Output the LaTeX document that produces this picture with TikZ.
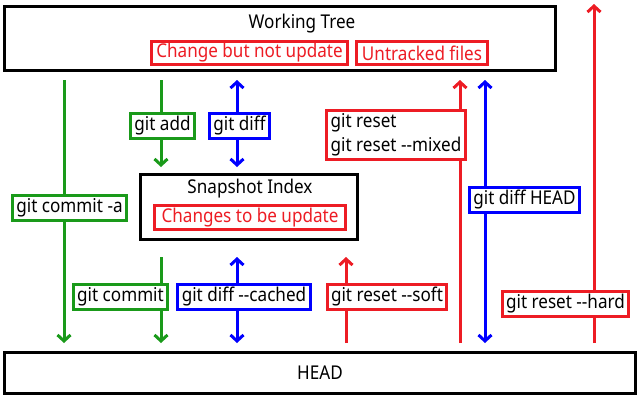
\documentclass[tikz,border=0pt]{standalone}
\usepackage{fontspec}
\setmainfont{Noto Sans}[FakeStretch=0.9]
\usetikzlibrary{positioning,arrows.meta}
\definecolor{gitgreen}{RGB}{26,154,26}
\definecolor{gitred}{RGB}{237,28,36}
\definecolor{gitblue}{RGB}{0,0,255}

\begin{document}
\begin{tikzpicture}[x=1pt,y=-1pt,
    font=\fontsize{19}{24}\selectfont,
    >={Straight Barb[length=6pt,width=13pt]},
    area/.style={draw,line width=3pt,inner sep=0,fill=white},
    tag/.style={draw,line width=3pt,fill=white,inner xsep=4pt,inner ysep=2pt,minimum height=25pt},
    greentag/.style={tag,draw=gitgreen},
    bluetag/.style={tag,draw=gitblue},
    redtag/.style={tag,draw=gitred},
    state/.style={tag,draw=gitred,text=gitred,inner sep=1pt,minimum height=23pt},
    wire/.style={line width=3pt}]
  \useasboundingbox (0,0) rectangle (640,400);
  % the three areas, each one a plain box with its title on top
  \node[area,minimum width=551pt,minimum height=64pt] (wt) at (280,38.5) {};
  \node (wtname) at (302,23.5) {Working Tree};
  \node[state,minimum width=196pt] (wtmod) at (249.5,53) {Change but not update};
  \node[state,minimum width=131pt] (wtnew) at (422,53) {Untracked files};

  \node[area,minimum width=217pt,minimum height=65pt] (idx) at (249,207) {};
  \node (idxname) at (250,188.5) {Snapshot Index};
  \node[state,minimum width=191pt,minimum height=24pt] (idxmod) at (250,217.5) {Changes to be update};

  \node[area,minimum width=631pt,minimum height=41pt,text depth=0pt] (head) at (320,373) {HEAD};

  % columns of the arrows
  \coordinate (c1) at (64,0);
  \coordinate (c2) at (161,0);
  \coordinate (c3) at (237,0);
  \coordinate (c4) at (346,0);
  \coordinate (c5) at (460,0);
  \coordinate (c6) at (485,0);
  \coordinate (c7) at (594,0);
  \coordinate (top) at (594,4);

  \draw[wire,gitgreen,->,shorten <=8pt,shorten >=8pt] (wt.south -| c1) -- (head.north -| c1);
  \draw[wire,gitgreen,->,shorten <=8pt,shorten >=6pt] (wt.south -| c2) -- (idx.north -| c2);
  \draw[wire,gitblue,<->,shorten <=8pt,shorten >=6pt] (wt.south -| c3) -- (idx.north -| c3);
  \draw[wire,gitgreen,->,shorten <=16pt,shorten >=8pt] (idx.south -| c2) -- (head.north -| c2);
  \draw[wire,gitblue,<->,shorten <=16pt,shorten >=8pt] (idx.south -| c3) -- (head.north -| c3);
  \draw[wire,gitred,->,shorten <=8pt,shorten >=16pt] (head.north -| c4) -- (idx.south -| c4);
  \draw[wire,gitred,->,shorten <=8pt,shorten >=8pt] (head.north -| c5) -- (wt.south -| c5);
  \draw[wire,gitblue,<->,shorten <=8pt,shorten >=8pt] (wt.south -| c6) -- (head.north -| c6);
  \draw[wire,gitred,->,shorten <=8pt] (head.north -| c7) -- (top);

  \node[greentag] (commita) at (69.5,207.5) {git commit -a};
  \node[greentag] (add) at (162.5,125.5) {git add};
  \node[bluetag] (diff) at (239.5,125.5) {git diff};
  \node[redtag,align=left,inner ysep=3pt] (mixed) at (396,135) {git reset\\git reset -{}-mixed};
  \node[bluetag] (diffhead) at (524.5,200) {git diff HEAD};
  \node[greentag] (commit) at (120.5,297) {git commit};
  \node[bluetag] (cached) at (244,296.5) {git diff -{}-cached};
  \node[redtag] (soft) at (387,297) {git reset -{}-soft};
  \node[redtag] (hard) at (565.5,304) {git reset -{}-hard};
\end{tikzpicture}
\end{document}
